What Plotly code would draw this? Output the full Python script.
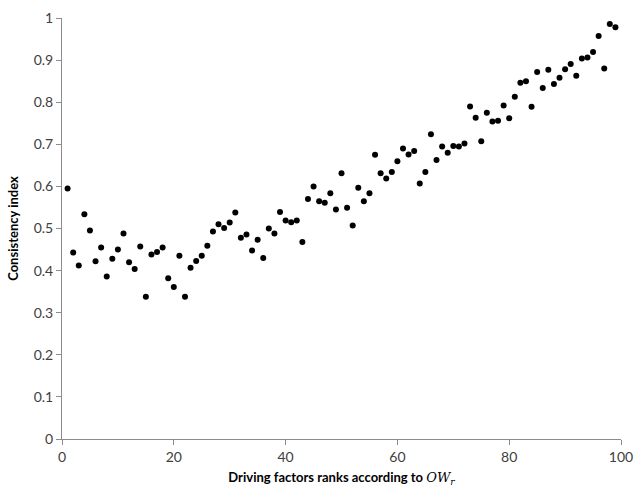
import plotly.graph_objects as go

ranks = list(range(1, 100))
consistency = [
    0.595, 0.443, 0.412, 0.534, 0.495, 0.422, 0.455, 0.386, 0.428, 0.450,
    0.488, 0.420, 0.404, 0.457, 0.338, 0.438, 0.444, 0.455, 0.382, 0.361,
    0.435, 0.338, 0.407, 0.423, 0.435, 0.459, 0.493, 0.510, 0.501, 0.514,
    0.538, 0.478, 0.486, 0.448, 0.473, 0.430, 0.500, 0.488, 0.539, 0.519,
    0.515, 0.519, 0.468, 0.570, 0.600, 0.565, 0.561, 0.584, 0.545, 0.631,
    0.549, 0.507, 0.597, 0.565, 0.584, 0.675, 0.631, 0.619, 0.634, 0.660,
    0.690, 0.676, 0.684, 0.607, 0.634, 0.724, 0.663, 0.695, 0.680, 0.696,
    0.695, 0.702, 0.790, 0.763, 0.707, 0.775, 0.754, 0.756, 0.792, 0.762,
    0.813, 0.846, 0.850, 0.789, 0.872, 0.834, 0.877, 0.843, 0.858, 0.878,
    0.891, 0.863, 0.904, 0.906, 0.919, 0.957, 0.880, 0.986, 0.978,
]

x_title = ('Driving factors ranks according to '
           '<span style="font-family:DejaVu Serif;font-weight:normal"><i>OW<sub>r</sub></i></span>')

fig = go.Figure()
fig.add_trace(go.Scatter(
    x=ranks, y=consistency, mode="markers",
    marker=dict(color="black", size=6, line=dict(width=0)),
    showlegend=False,
))

axis_common = dict(
    showgrid=False, zeroline=False, showline=True, linecolor="#8c8c8c", linewidth=1,
    ticks="outside", tickcolor="#8c8c8c", ticklen=5, tickwidth=1, automargin=False,
    tickfont=dict(family="Lato, Open Sans, sans-serif", size=14, color="#404040"),
)
title_font = dict(family="Lato, Open Sans, sans-serif", size=13, color="black", weight="bold")

fig.update_layout(
    width=635, height=494,
    margin=dict(l=62, r=14, t=18, b=55),
    paper_bgcolor="white", plot_bgcolor="white",
    xaxis=dict(range=[0, 100], dtick=20, tick0=0,
               title=dict(text=x_title, standoff=9, font=title_font),
               **axis_common),
    yaxis=dict(range=[0, 1], dtick=0.1, tick0=0,
               title=dict(text="Consistency index", standoff=12, font=title_font),
               **axis_common),
)

fig.write_html(
    "out.html",
    config={"displayModeBar": False},
    post_script="document.body.style.margin='0';document.body.style.overflow='hidden';",
)
